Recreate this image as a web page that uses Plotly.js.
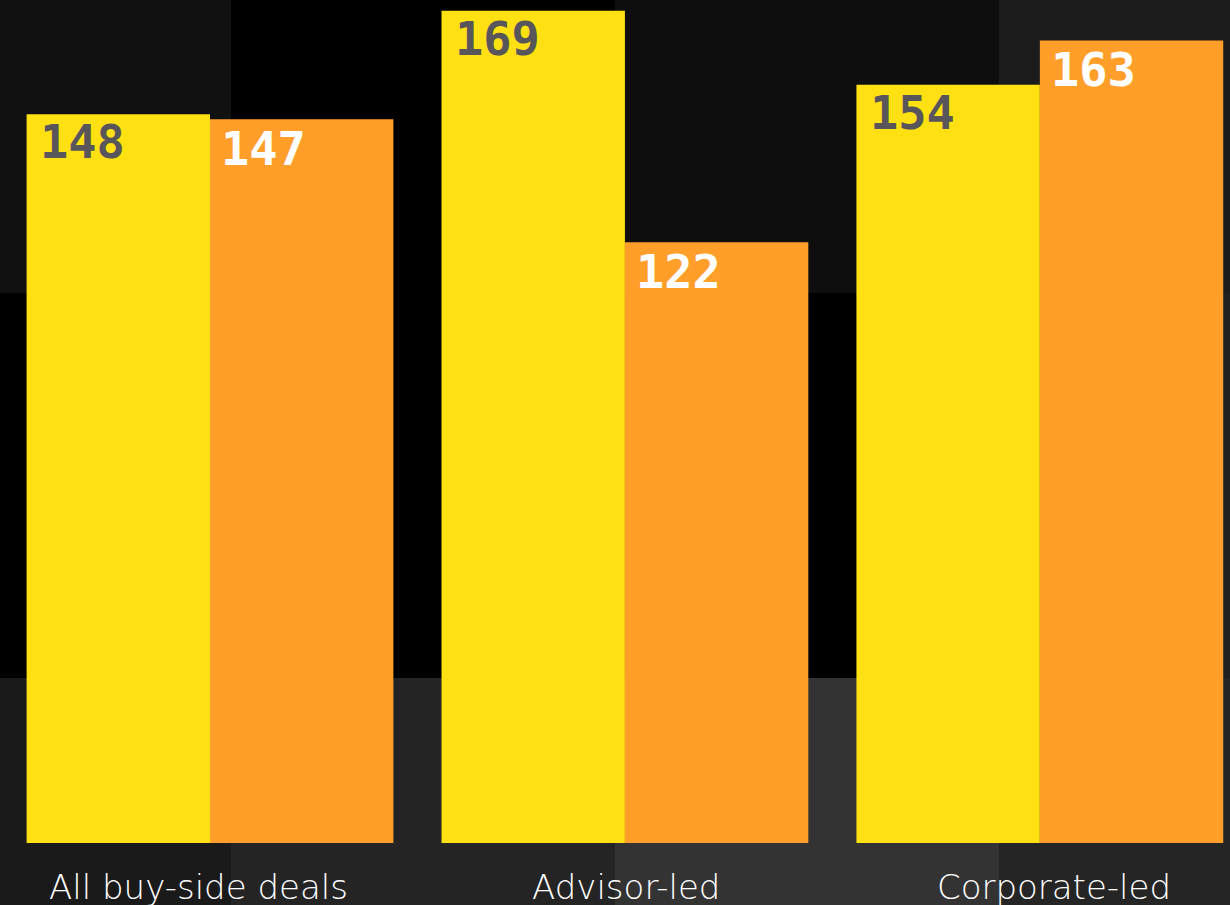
<!DOCTYPE html>
<html>
<head>
<meta charset="utf-8">
<script src="https://cdn.plot.ly/plotly-3.0.1.min.js"></script>
<style>
  html, body { margin: 0; padding: 0; background: #000; }
  #chart { width: 1230px; height: 905px; }
</style>
</head>
<body>
<div id="chart"></div>
<script>
// ---- data ----
const categories = ['All buy-side deals', 'Advisor-led', 'Corporate-led'];
const seriesA = [148, 169, 154];   // yellow bars
const seriesB = [147, 122, 163];   // orange bars
const seriesNames = ['Series A', 'Series B'];

// ---- styling ----
const yellow = '#FFE113';
const orange = '#FF9E29';
const labelFont = 'DejaVu Sans Mono, Liberation Mono, monospace';

// background tiles (paper coordinates)
const colEdges = [0, 231 / 1230, 615 / 1230, 999 / 1230, 1];
const rowEdges = [1.02, (843 - 293) / 843, (843 - 678) / 843, -62 / 843 - 0.01];
const tileColors = [
  ['#111111', '#000000', '#0e0e0e', '#1b1b1b'],
  ['#000000', '#000000', '#000000', '#1f1f1f'],
  ['#1a1a1a', '#242424', '#333333', '#252525']
];
const shapes = [];
for (let r = 0; r < 3; r++) {
  for (let c = 0; c < 4; c++) {
    shapes.push({
      type: 'rect', xref: 'paper', yref: 'paper', layer: 'below',
      x0: colEdges[c], x1: colEdges[c + 1], y0: rowEdges[r + 1], y1: rowEdges[r],
      fillcolor: tileColors[r][c], line: { width: 0 }
    });
  }
}

const traces = [
  { type: 'bar', name: seriesNames[0], x: categories, y: seriesA,
    marker: { color: yellow, line: { width: 0 } }, hoverinfo: 'x+y' },
  { type: 'bar', name: seriesNames[1], x: categories, y: seriesB,
    marker: { color: orange, line: { width: 0 } }, hoverinfo: 'x+y' },
  { type: 'scatter', mode: 'markers', x: categories, y: categories.map(() => 0),
    xaxis: 'x2', yaxis: 'y', marker: { opacity: 0 }, hoverinfo: 'skip', showlegend: false }
];

const annotations = [];
categories.forEach((cat, i) => {
  annotations.push({
    x: cat, y: seriesA[i], xref: 'x', yref: 'y', xanchor: 'left', yanchor: 'top',
    xshift: -172, yshift: 2, showarrow: false, text: String(seriesA[i]),
    font: { family: labelFont, size: 47, color: '#58565a', weight: 'bold' }
  });
  annotations.push({
    x: cat, y: seriesB[i], xref: 'x', yref: 'y', xanchor: 'left', yanchor: 'top',
    xshift: 9, yshift: 0, showarrow: false, text: String(seriesB[i]),
    font: { family: labelFont, size: 47, color: '#ffffff', weight: 'bold' }
  });
});

const layout = {
  width: 1230, height: 905,
  margin: { l: 0, r: 0, t: 0, b: 62, pad: 0 },
  paper_bgcolor: '#000000',
  plot_bgcolor: 'rgba(0,0,0,0)',
  barmode: 'group',
  bargap: 0.116,
  bargroupgap: 0,
  showlegend: false,
  xaxis: {
    type: 'category', range: [-0.5061, 2.4583], fixedrange: true,
    showgrid: false, zeroline: false, showline: false, ticks: '', showticklabels: false
  },
  xaxis2: {
    type: 'category', overlaying: 'x', anchor: 'y', side: 'bottom',
    range: [-0.464, 2.4115], showgrid: false, zeroline: false, showline: false, ticks: '',
    tickfont: { family: 'DejaVu Sans, Inter, sans-serif', size: 34, color: '#ffffff', weight: 200 },
    ticklabelstandoff: 21
  },
  yaxis: {
    range: [0, 171.2], showgrid: false, zeroline: false, showline: false,
    showticklabels: false, ticks: ''
  },
  shapes: shapes,
  annotations: annotations
};

Plotly.newPlot('chart', traces, layout, { displayModeBar: false, staticPlot: true });
</script>
</body>
</html>
